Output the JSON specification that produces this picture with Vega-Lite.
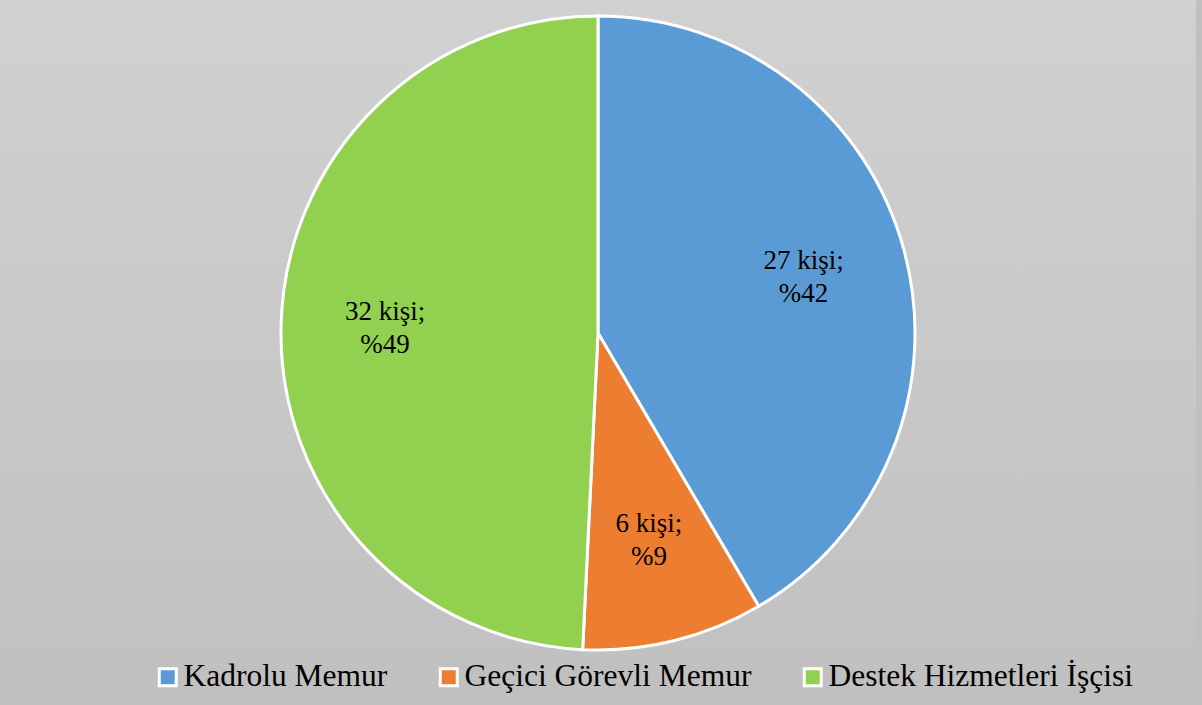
{
  "$schema": "https://vega.github.io/schema/vega-lite/v6.json",
  "width": 1196,
  "height": 666,
  "autosize": {"type": "none"},
  "padding": {"left": 0, "top": 0, "right": 6, "bottom": 39},
  "background": "#c0c0c0",
  "config": {"view": {"stroke": null}},
  "data": {
    "values": [
      {"grup": "Kadrolu Memur", "kisi": 27, "sira": 1, "etiket": "27 kişi;\n%42"},
      {"grup": "Geçici Görevli Memur", "kisi": 6, "sira": 2, "etiket": "6 kişi;\n%9"},
      {"grup": "Destek Hizmetleri İşçisi", "kisi": 32, "sira": 3, "etiket": "32 kişi;\n%49"}
    ]
  },
  "layer": [
    {
      "data": {"values": [{}]},
      "mark": {
        "type": "rect",
        "color": {
          "gradient": "linear",
          "x1": 0, "y1": 0, "x2": 0, "y2": 1,
          "stops": [
            {"offset": 0, "color": "#d1d1d1"},
            {"offset": 1, "color": "#c1c1c1"}
          ]
        }
      },
      "encoding": {}
    },
    {
      "mark": {"type": "arc", "outerRadius": 317, "stroke": "white", "strokeWidth": 3},
      "encoding": {
        "theta": {"field": "kisi", "type": "quantitative", "stack": true},
        "order": {"field": "sira", "type": "quantitative"},
        "color": {
          "field": "grup",
          "type": "nominal",
          "sort": ["Kadrolu Memur", "Geçici Görevli Memur", "Destek Hizmetleri İşçisi"],
          "scale": {
            "domain": ["Kadrolu Memur", "Geçici Görevli Memur", "Destek Hizmetleri İşçisi"],
            "range": ["#5b9bd5", "#ed7d31", "#92d050"]
          },
          "legend": {
            "title": null,
            "orient": "none",
            "direction": "horizontal",
            "legendX": 152,
            "legendY": 661,
            "padding": 0,
            "symbolType": "square",
            "symbolSize": 289,
            "symbolStrokeColor": "white",
            "symbolStrokeWidth": 3,
            "symbolOpacity": 1,
            "labelFont": "Liberation Serif",
            "labelFontSize": 31.5,
            "labelColor": "#000000",
            "labelOffset": 0,
            "labelLimit": 600,
            "columnPadding": 45
          }
        }
      }
    },
    {
      "mark": {
        "type": "text",
        "radius": 213,
        "font": "Liberation Serif",
        "fontSize": 27,
        "lineHeight": 33,
        "lineBreak": "\n",
        "color": "#000000",
        "align": "center",
        "baseline": "middle",
        "dy": -16
      },
      "encoding": {
        "theta": {"field": "kisi", "type": "quantitative", "stack": true},
        "order": {"field": "sira", "type": "quantitative"},
        "text": {"field": "etiket", "type": "nominal"}
      }
    }
  ]
}
